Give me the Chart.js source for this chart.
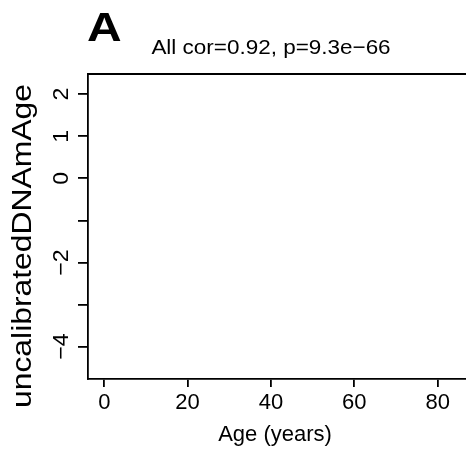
<!DOCTYPE html>
<html lang="en">
<head>
  <meta charset="UTF-8">
  <title>uncalibratedDNAmAge vs Age</title>
  <style>
    body {
      margin: 0;
      background: #ffffff;
    }
    #wrap {
      width: 466px;
      height: 456px;
    }
  </style>
</head>
<body>
  <div id="wrap"><canvas id="chart"></canvas></div>

  <script src="https://cdn.jsdelivr.net/npm/chart.js"></script>
  <script>
    // data shown in the panel (the panel has no points drawn)
    const points = [];
    const xTicks = [0, 20, 40, 60, 80];
    const yTicks = [2, 1, 0, -1, -2, -3, -4];
    const yLabelled = [2, 1, 0, -2, -4];
    const xRange = [-3.9, 86.8];
    const yRange = [-4.77, 2.48];
    const panelLetter = "A";
    const titleText = "All cor=0.92, p=9.3e\u221266";
    const xTitle = "Age (years)";
    const yTitle = "uncalibratedDNAmAge";

    const FONT = "'Liberation Sans', Arial, sans-serif";

    function fmt(v) {
      return v < 0 ? "\u2212" + Math.abs(v) : String(v);
    }

    // text is a bit wider than plain Arial in the original, so stretch along the run
    function putText(ctx, txt, x, y, sx, rot) {
      ctx.save();
      ctx.translate(x, y);
      if (rot) ctx.rotate(rot);
      ctx.scale(sx, 1);
      ctx.fillText(txt, 0, 0);
      ctx.restore();
    }

    const textPlugin = {
      id: "rtext",
      afterDraw(chart) {
        const ctx = chart.ctx;
        const area = chart.chartArea;
        const y = chart.scales.y;
        ctx.save();
        ctx.fillStyle = "#000";

        // top frame line
        ctx.strokeStyle = "#000";
        ctx.lineWidth = 1.8;
        ctx.beginPath();
        ctx.moveTo(area.left, area.top);
        ctx.lineTo(chart.width, area.top);
        ctx.stroke();

        // y tick labels, parallel to the axis
        ctx.font = "22px " + FONT;
        ctx.textAlign = "center";
        ctx.textBaseline = "middle";
        yLabelled.forEach(v => {
          putText(ctx, fmt(v), 62, y.getPixelForValue(v), 1.05, -Math.PI / 2);
        });

        // y axis title
        ctx.font = "27px " + FONT;
        putText(ctx, yTitle, 24, 246, 1.18, -Math.PI / 2);

        // x axis title
        ctx.font = "22px " + FONT;
        ctx.textBaseline = "alphabetic";
        putText(ctx, xTitle, 275, 441, 1.0, 0);

        // main title
        ctx.font = "21px " + FONT;
        putText(ctx, titleText, 271, 54, 1.07, 0);

        // panel letter
        ctx.font = "bold 40px " + FONT;
        ctx.textAlign = "left";
        putText(ctx, panelLetter, 87, 41, 1.2, 0);
        ctx.restore();
      }
    };

    new Chart(document.getElementById("chart"), {
      type: "scatter",
      data: {
        datasets: [{
          data: points,
          pointRadius: 3,
          borderColor: "#000",
          backgroundColor: "transparent"
        }]
      },
      options: {
        responsive: true,
        maintainAspectRatio: false,
        animation: false,
        layout: { padding: { left: 0, right: 0, top: 74, bottom: 0 } },
        plugins: {
          legend: { display: false },
          tooltip: { enabled: false }
        },
        scales: {
          x: {
            type: "linear",
            min: xRange[0],
            max: xRange[1],
            afterBuildTicks: s => { s.ticks = xTicks.map(v => ({ value: v })); },
            afterFit: s => { s.height = 456 - 379; },
            border: { display: true, color: "#000", width: 1.8 },
            grid: { drawOnChartArea: false, drawTicks: true, tickLength: 8, color: "#000", lineWidth: 1.8 },
            ticks: {
              color: "#000",
              font: { family: FONT, size: 22 },
              padding: 3,
              maxRotation: 0,
              callback: v => fmt(v)
            }
          },
          y: {
            type: "linear",
            min: yRange[0],
            max: yRange[1],
            afterBuildTicks: s => { s.ticks = yTicks.map(v => ({ value: v })); },
            afterFit: s => { s.width = 88; },
            border: { display: true, color: "#000", width: 1.8 },
            grid: { drawOnChartArea: false, drawTicks: true, tickLength: 10, color: "#000", lineWidth: 1.8 },
            ticks: { display: false }
          }
        }
      },
      plugins: [textPlugin]
    });
  </script>
</body>
</html>
